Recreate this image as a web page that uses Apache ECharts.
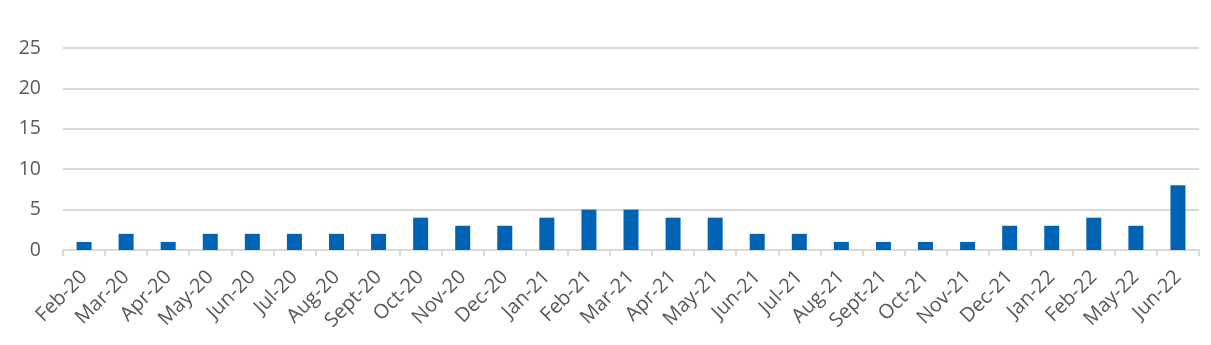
<!DOCTYPE html>
<html><head><meta charset="utf-8">
<script src="https://cdn.jsdelivr.net/npm/echarts@6/dist/echarts.min.js"></script>
<style>html,body{margin:0;padding:0;background:#fff}#c{width:1211px;height:345px}</style>
</head><body><div id="c"></div>
<script>
var categories = ["Feb-20","Mar-20","Apr-20","May-20","Jun-20","Jul-20","Aug-20","Sept-20","Oct-20","Nov-20","Dec-20","Jan-21","Feb-21","Mar-21","Apr-21","May-21","Jun-21","Jul-21","Aug-21","Sept-21","Oct-21","Nov-21","Dec-21","Jan-22","Feb-22","May-22","Jun-22"];
var values = [1,2,1,2,2,2,2,2,4,3,3,4,5,5,4,4,2,2,1,1,1,1,3,3,4,3,8];
var chart = echarts.init(document.getElementById('c'), null, {renderer:'canvas'});
chart.setOption({
  animation:false,
  grid:{left:63,right:12,top:48,bottom:95,containLabel:false},
  xAxis:{type:'category',data:categories,
    axisLine:{lineStyle:{color:'#d9d9d9',width:2}},
    axisTick:{show:true,length:6,lineStyle:{color:'#d9d9d9',width:2}},
    axisLabel:{rotate:45,interval:0,color:'#595959',fontSize:20,fontFamily:'"Open Sans", sans-serif',margin:24}},
  yAxis:{type:'value',min:0,max:25,interval:5,
    axisLine:{show:false},axisTick:{show:false},
    splitLine:{lineStyle:{color:'#d9d9d9',width:2}},
    axisLabel:{color:'#595959',fontSize:19.5,fontFamily:'"Open Sans", sans-serif',margin:22}},
  series:[{type:'bar',data:values,barWidth:15,itemStyle:{color:'#0063b4'}}]
});
</script></body></html>
